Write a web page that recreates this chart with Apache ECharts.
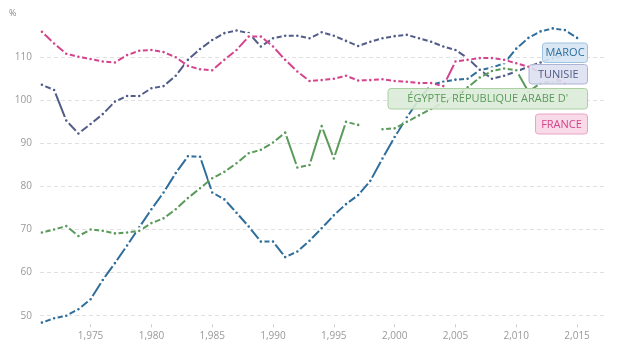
<!DOCTYPE html>
<html>
<head>
<meta charset="utf-8">
<script src="https://cdn.jsdelivr.net/npm/echarts@6/dist/echarts.min.js"></script>
<style>
html,body{margin:0;padding:0;background:#fff;}
#c{width:627px;height:363px;}
</style>
</head>
<body>
<div id="c"></div>
<script>
var years = [];
for (var y = 1971; y <= 2015; y++) years.push(y);

var xTicks = [1975, 1980, 1985, 1990, 1995, 2000, 2005, 2010, 2015];
var yTicks = [50, 60, 70, 80, 90, 100, 110];

var maroc = [48.4, 49.4, 50.0, 51.5, 53.8, 58.3, 62.2, 66.3, 70.5, 74.7,
  78.6, 83.1, 87.0, 86.9, 78.6, 77.0, 73.9, 70.7, 67.2, 67.2,
  63.6, 64.9, 67.4, 70.3, 73.3, 75.9, 78.0, 81.3, 86.5, 91.5,
  96.0, 100.2, 103.6, 104.3, 104.8, 105.0, 107.0, 107.6, 108.6, 112.0,
  114.5, 116.0, 116.7, 116.3, 114.5];

var tunisie = [103.6, 102.4, 95.3, 92.3, 94.5, 96.8, 99.7, 101.0, 101.0, 102.8,
  103.3, 105.7, 109.4, 111.9, 114.0, 115.6, 116.2, 115.6, 112.5, 114.4,
  115.0, 115.0, 114.4, 115.8, 115.0, 113.8, 112.6, 113.6, 114.4, 114.9,
  115.2, 114.4, 113.6, 112.5, 111.7, 109.8, 107.1, 105.0, 105.7, 106.7,
  107.8, 108.8, 109.8, 110.5, null];

var egypte = [69.3, 70.0, 70.8, 68.5, 70.0, 69.7, 69.1, 69.3, 69.7, 71.5,
  72.6, 74.7, 77.3, 79.6, 81.9, 83.4, 85.4, 87.7, 88.5, 90.2,
  92.5, 84.4, 85.0, 94.0, 86.5, 95.0, 94.3, null, 93.3, 93.5,
  95.0, 96.5, 98.0, 99.5, 101.2, 103.0, 105.3, 106.8, 107.4, 107.0,
  102.0, 104.0, 104.3, 104.5, null];

var france = [115.9, 113.2, 110.8, 110.1, 109.6, 109.0, 108.8, 110.5, 111.5, 111.7,
  111.2, 110.0, 108.0, 107.2, 107.0, 109.4, 111.7, 114.8, 114.8, 112.5,
  109.4, 106.7, 104.5, 104.7, 105.0, 105.7, 104.6, 104.7, 104.9, 104.5,
  104.3, 104.0, 104.0, 103.3, 109.0, 109.4, 109.8, 109.8, 109.4, 108.6,
  107.8, 106.5, 105.3, 104.0, null];

var names = ['MAROC', 'TUNISIE', "ÉGYPTE, RÉPUBLIQUE ARABE D'", 'FRANCE'];
var colors = ['#2f6e9b', '#525c89', '#5b9a5b', '#d4448c'];
var fills = ['rgba(214,230,245,0.9)', 'rgba(221,224,241,0.9)', 'rgba(220,236,216,0.9)', 'rgba(247,214,229,0.9)'];
var borders = ['#9fc2e0', '#aeb3d6', '#abd0a4', '#eaa3c4'];
var dataSets = [maroc, tunisie, egypte, france];

function pairs(arr) {
  return years.map(function (yr, i) { return [yr, arr[i]]; });
}

var chart = echarts.init(document.getElementById('c'), null, {renderer: 'canvas'});

var series = dataSets.map(function (d, i) {
  return {
    name: names[i],
    type: 'line',
    data: pairs(d),
    connectNulls: false,
    symbol: 'circle',
    symbolSize: 5,
    showSymbol: true,
    showAllSymbol: true,
    lineStyle: {color: colors[i], width: 2},
    itemStyle: {color: colors[i], borderColor: '#ffffff', borderWidth: 2.4},
    emphasis: {disabled: true},
    animation: false
  };
});

// label boxes: [x, y, width, height]
var boxes = [[542.5, 43, 45, 19.5], [529, 64.5, 58.5, 19.5], [388, 88.5, 199.5, 20.5], [535.5, 114, 52, 20]];
var graphics = [{
  type: 'text', left: 9, top: 9,
  style: {text: '%', fill: '#888', font: '9px "Open Sans"'}
}];
names.forEach(function (n, i) {
  var b = boxes[i];
  graphics.push({
    type: 'rect', z: 100,
    shape: {x: b[0], y: b[1], width: b[2], height: b[3], r: 3},
    style: {fill: fills[i], stroke: borders[i], lineWidth: 1}
  });
  graphics.push({
    type: 'text', z: 101,
    x: b[0] + b[2] / 2, y: b[1] + b[3] / 2 + 0.5,
    style: {text: n, fill: colors[i], font: '11px "Open Sans"', align: 'center', verticalAlign: 'middle'}
  });
});

chart.setOption({
  animation: false,
  grid: {left: 40, right: 20, top: 22.8, bottom: 38.7},
  xAxis: {
    type: 'value',
    min: 1970.84,
    max: 2017.46,
    axisLine: {show: false},
    axisTick: {show: true, length: 3, lineStyle: {color: '#ccc'}, customValues: xTicks},
    axisLabel: {customValues: xTicks, color: '#999', fontSize: 10, fontFamily: 'Open Sans', margin: 7},
    splitLine: {show: false}
  },
  yAxis: {
    type: 'value',
    min: 48,
    max: 118,
    axisLine: {show: false},
    axisTick: {show: false, customValues: yTicks},
    axisLabel: {customValues: yTicks, color: '#999', fontSize: 10, fontFamily: 'Open Sans', margin: 8},
    splitLine: {show: true, lineStyle: {color: '#e0e0e0', type: [4, 3], width: 1}}
  },
  series: series,
  graphic: graphics
});
</script>
</body>
</html>
